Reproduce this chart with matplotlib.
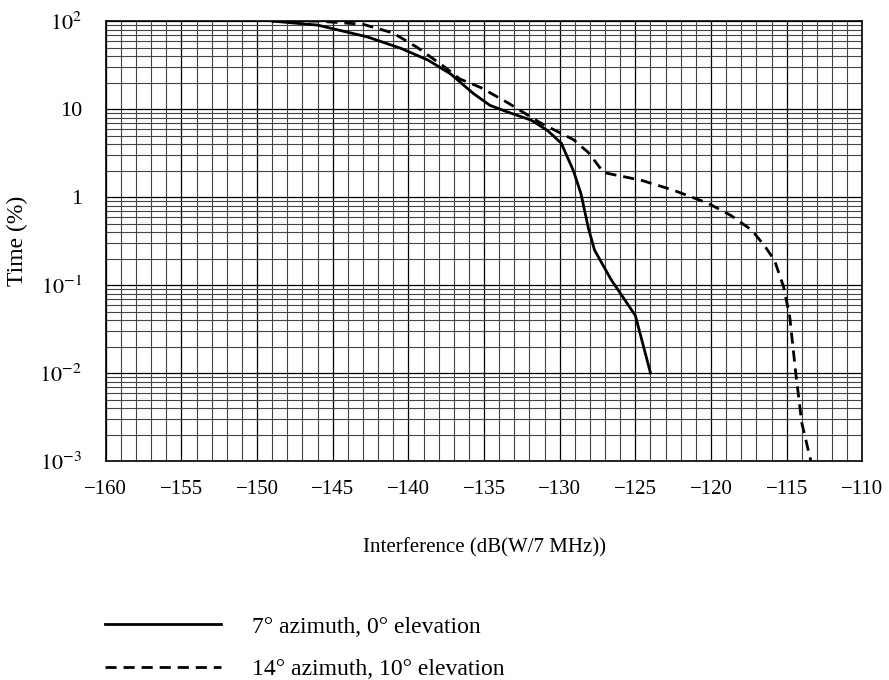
import numpy as np
import matplotlib
matplotlib.use("Agg")
import matplotlib.pyplot as plt
from matplotlib.ticker import FixedLocator, FixedFormatter, LogLocator, NullFormatter

plt.rcParams['font.family'] = ['Liberation Serif', 'DejaVu Serif']
plt.rcParams['mathtext.fontset'] = 'stix'

# 7 deg azimuth, 0 deg elevation
x_solid = [-149, -146, -142.7, -140.5, -138.7, -137.2, -135.7, -134.6, -133.4, -131.9,
           -130.8, -129.9, -129.1, -128.6, -128.1, -127.7, -126.6, -125.8, -125.0, -124.0]
y_solid = [100, 90, 66, 49, 36, 25, 15, 11, 9.2, 7.5,
           5.7, 4.1, 2.0, 1.1, 0.44, 0.25, 0.115, 0.072, 0.045, 0.01]

# 14 deg azimuth, 10 deg elevation
x_dash = [-149, -146, -143, -141, -139.4, -137.6, -136.6, -135.2, -133.4, -131.3,
          -129.1, -128.1, -127.1, -124.6, -122.5, -120.2, -118.7, -117.3, -116.4,
          -115.8, -115.2, -114.8, -114.4, -114.0, -113.4]
y_dash = [100, 100, 92, 73, 50, 30, 22, 17.5, 11.7, 7,
          4.5, 3.2, 1.9, 1.55, 1.2, 0.85, 0.62, 0.42, 0.27,
          0.19, 0.095, 0.044, 0.01, 0.0027, 0.001]

labels = ['7° azimuth, 0° elevation', '14° azimuth, 10° elevation']
yticks = [1e-3, 1e-2, 1e-1, 1, 10, 100]
ytick_labels = ['$10^{-3}$', '$10^{-2}$', '$10^{-1}$', '1', '10', '$10^{2}$']

fig = plt.figure(figsize=(8.89, 6.8), dpi=100)
ax = fig.add_axes([0.119, 0.322, 0.851, 0.647])

ax.set_yscale('log')
ax.set_xlim(-160, -110)
ax.set_ylim(1e-3, 1e2)

ax.xaxis.set_major_locator(FixedLocator(np.arange(-160, -109, 5)))
ax.xaxis.set_minor_locator(FixedLocator(np.arange(-160, -109, 1)))
ax.yaxis.set_major_locator(FixedLocator(yticks))
ax.yaxis.set_major_formatter(FixedFormatter(ytick_labels))
ax.yaxis.set_minor_locator(LogLocator(base=10, subs=np.arange(2, 10)))
ax.yaxis.set_minor_formatter(NullFormatter())

ax.grid(True, which='major', color='black', linewidth=0.9)
ax.grid(True, which='minor', color='#444444', linewidth=0.8)
ax.set_axisbelow(True)

ax.tick_params(which='both', length=0, labelsize=15, pad=14)
ax.tick_params(axis='y', labelsize=16, pad=17)

ax.plot(x_solid, y_solid, color='black', linewidth=2, label=labels[0])
ax.plot(x_dash, y_dash, color='black', linewidth=2, linestyle=(0, (4, 2.5)), label=labels[1])

for s in ax.spines.values():
    s.set_linewidth(1.2)

ax.set_xlabel('Interference (dB(W/7 MHz))', fontsize=15, labelpad=28)
ax.set_ylabel('Time (%)', fontsize=17, labelpad=8)

fig.legend(loc='upper left', bbox_to_anchor=(0.118, 0.094), frameon=False,
           fontsize=17, handlelength=4.9, handletextpad=1.35, labelspacing=0.9,
           borderpad=0, borderaxespad=0)

fig.savefig('out.png', dpi=100)
